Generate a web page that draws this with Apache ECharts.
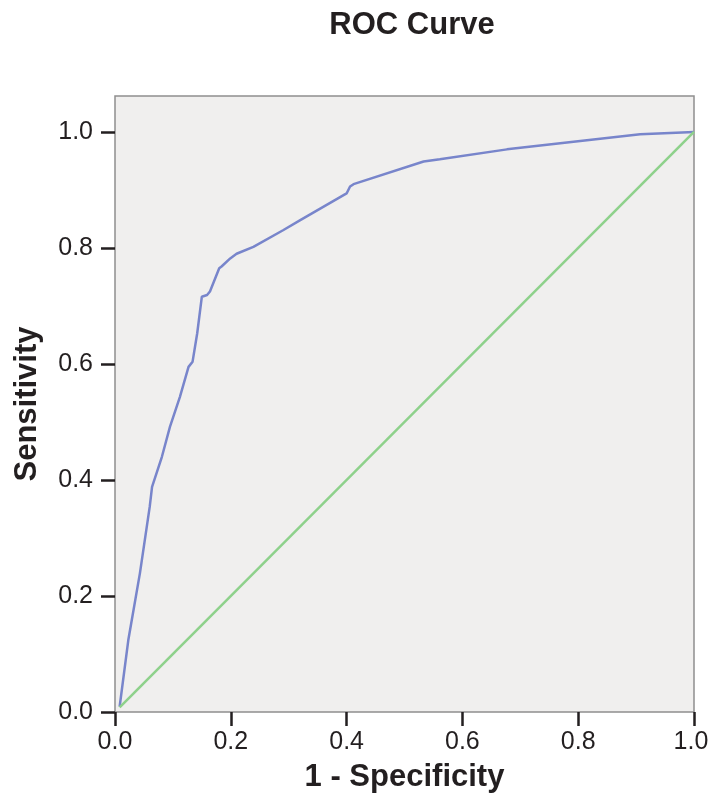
<!DOCTYPE html>
<html>
<head>
<meta charset="utf-8">
<script src="https://cdn.jsdelivr.net/npm/echarts@6/dist/echarts.min.js"></script>
<style>
  html, body { margin: 0; padding: 0; background: #fff; }
  #chart { width: 710px; height: 798px; }
</style>
</head>
<body>
<div id="chart"></div>
<script>
// ROC 曲线数据
const fpr = [0.008, 0.023, 0.043, 0.060, 0.064, 0.081, 0.095, 0.112, 0.127, 0.134, 0.137, 0.142, 0.150, 0.159, 0.164,
  0.180, 0.184, 0.199, 0.210, 0.239, 0.291, 0.320, 0.400, 0.406, 0.412, 0.533, 0.561, 0.677, 0.792, 0.907, 1.0];
const tpr = [0.009, 0.124, 0.239, 0.354, 0.388, 0.440, 0.492, 0.543, 0.595, 0.604, 0.607, 0.653, 0.716, 0.719, 0.725,
  0.765, 0.768, 0.782, 0.790, 0.802, 0.831, 0.848, 0.894, 0.906, 0.910, 0.949, 0.953, 0.970, 0.983, 0.996, 1.0];
// 参考线（对角线）
const refX = [0.008, 1.0];
const refY = [0.008, 1.0];
const tickValues = [0, 0.2, 0.4, 0.6, 0.8, 1.0];

const font = '"Liberation Sans", Arial, sans-serif';
const labelStyle = { fontFamily: font, fontSize: 25, color: '#231f20' };
const chart = echarts.init(document.getElementById('chart'));

const axisCommon = {
  type: 'value',
  axisLine: { show: false },
  splitLine: { show: false },
  axisTick: {
    show: true,
    inside: false,
    length: 14,
    customValues: tickValues,
    lineStyle: { color: '#231f20', width: 2.5 }
  },
  axisLabel: Object.assign({
    customValues: tickValues,
    formatter: v => v.toFixed(1)
  }, labelStyle),
  nameLocation: 'middle',
  nameTextStyle: { fontFamily: font, fontSize: 31, fontWeight: 'bold', color: '#231f20' }
};

const option = {
  animation: false,
  title: {
    text: 'ROC Curve',
    left: 407,
    top: 5,
    textAlign: 'center',
    textStyle: { fontFamily: font, fontSize: 31, fontWeight: 'bold', color: '#231f20' }
  },
  grid: {
    left: 115, right: 16, top: 96, bottom: 86,
    outerBoundsMode: 'none',
    containLabel: false,
    show: true,
    backgroundColor: '#f0efee',
    borderColor: '#8f8f8f',
    borderWidth: 1.5
  },
  xAxis: Object.assign({}, axisCommon, {
    min: 0, max: 1, interval: 0.2,
    name: '1 - Specificity',
    nameGap: 50,
    axisLabel: Object.assign({}, axisCommon.axisLabel, {
      margin: 18,
      // 最右侧标签略向左移，避免被画布裁掉
      formatter: v => v === 1 ? '{last|' + v.toFixed(1) + '}' : v.toFixed(1),
      rich: { last: Object.assign({ padding: [0, 6, 0, 0] }, labelStyle) }
    })
  }),
  yAxis: Object.assign({}, axisCommon, {
    min: 0, max: 1.062, interval: 0.2,
    name: 'Sensitivity',
    nameGap: 72,
    axisLabel: Object.assign({}, axisCommon.axisLabel, { margin: 22 })
  }),
  series: [
    {
      type: 'line',
      data: fpr.map((x, i) => [x, tpr[i]]),
      symbol: 'none',
      lineStyle: { color: '#7885cb', width: 2.5 }
    },
    {
      type: 'line',
      data: refX.map((x, i) => [x, refY[i]]),
      symbol: 'none',
      lineStyle: { color: '#8ed18b', width: 2.5 }
    }
  ]
};

chart.setOption(option);
</script>
</body>
</html>
